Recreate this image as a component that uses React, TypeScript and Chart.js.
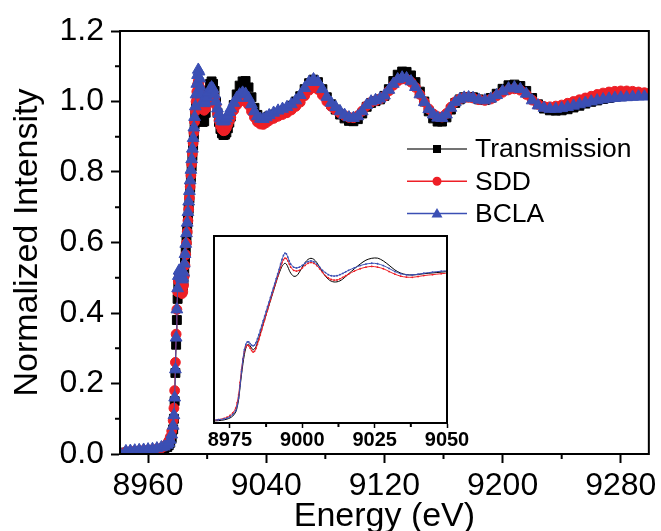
import React, { useEffect, useRef } from 'react';
import { Chart, registerables } from 'chart.js';

Chart.register(...registerables);

// ---------- data ----------
const ENERGY = [
  8941, 8945, 8948, 8951, 8954, 8957, 8960, 8963, 8966, 8969,
  8971, 8973, 8974, 8975, 8976, 8977, 8977.5, 8978, 8978.5, 8979,
  8979.5, 8980, 8980.5, 8981, 8981.5, 8982, 8982.5, 8983, 8983.5, 8984,
  8984.5, 8985, 8985.5, 8986, 8986.5, 8987, 8987.5, 8988, 8988.5, 8989,
  8989.5, 8990, 8990.5, 8991, 8991.5, 8992, 8992.5, 8993, 8993.5, 8994,
  8994.5, 8995, 8995.5, 8996, 8997, 8998, 8999, 9000, 9001, 9002,
  9003, 9004, 9005, 9006, 9007, 9008, 9009, 9010, 9011, 9012,
  9013, 9014, 9015, 9016, 9018, 9020, 9022, 9024, 9026, 9028,
  9030, 9032, 9034, 9036, 9038, 9040, 9042, 9045, 9048, 9051,
  9054, 9057, 9060, 9063, 9066, 9069, 9072, 9075, 9078, 9081,
  9084, 9087, 9090, 9093, 9096, 9099, 9102, 9105, 9108, 9111,
  9114, 9117, 9120, 9123, 9126, 9129, 9132, 9135, 9138, 9141,
  9144, 9147, 9150, 9153, 9156, 9159, 9162, 9165, 9168, 9171,
  9174, 9177, 9180, 9184, 9188, 9192, 9196, 9200, 9204, 9208,
  9212, 9216, 9220, 9224, 9228, 9232, 9236, 9240, 9244, 9248,
  9252, 9256, 9260, 9264, 9268, 9272, 9276, 9280, 9284, 9288, 9292, 9296, 9300,
];

const TRANSMISSION = [
  0.000, 0.004, 0.005, 0.006, 0.007, 0.008, 0.009, 0.010, 0.011, 0.013,
  0.015, 0.020, 0.025, 0.032, 0.045, 0.070, 0.100, 0.150, 0.230, 0.310,
  0.380, 0.440, 0.480, 0.500, 0.505, 0.495, 0.480, 0.470, 0.475, 0.490,
  0.515, 0.545, 0.575, 0.605, 0.635, 0.665, 0.695, 0.725, 0.755, 0.785,
  0.815, 0.845, 0.875, 0.905, 0.935, 0.960, 0.985, 1.005, 1.018, 1.025,
  1.020, 1.002, 0.980, 0.962, 0.942, 0.944, 0.968, 1.000, 1.030, 1.050,
  1.057, 1.050, 1.030, 1.000, 0.968, 0.942, 0.922, 0.910, 0.905, 0.906,
  0.912, 0.924, 0.940, 0.957, 0.990, 1.020, 1.045, 1.057, 1.058, 1.040,
  1.012, 0.982, 0.962, 0.952, 0.950, 0.953, 0.958, 0.963, 0.968, 0.973,
  0.978, 0.988, 1.000, 1.015, 1.035, 1.052, 1.062, 1.055, 1.035, 1.012,
  0.992, 0.977, 0.963, 0.952, 0.945, 0.944, 0.950, 0.966, 0.985, 0.996,
  1.001, 1.006, 1.016, 1.035, 1.058, 1.076, 1.085, 1.084, 1.074, 1.055,
  1.028, 1.000, 0.972, 0.952, 0.943, 0.943, 0.955, 0.977, 0.996, 1.006,
  1.012, 1.013, 1.012, 1.006, 1.004, 1.010, 1.022, 1.036, 1.046, 1.048,
  1.044, 1.030, 1.010, 0.992, 0.980, 0.975, 0.974, 0.975, 0.978, 0.983,
  0.988, 0.994, 0.999, 1.003, 1.007, 1.010, 1.013, 1.015, 1.017, 1.018, 1.019, 1.020, 1.020,
];

const SDD = [
  0.002, 0.006, 0.007, 0.008, 0.009, 0.010, 0.011, 0.012, 0.014, 0.017,
  0.022, 0.030, 0.037, 0.048, 0.065, 0.095, 0.130, 0.180, 0.260, 0.340,
  0.410, 0.460, 0.490, 0.500, 0.495, 0.480, 0.465, 0.455, 0.460, 0.478,
  0.505, 0.535, 0.565, 0.598, 0.630, 0.662, 0.694, 0.726, 0.758, 0.790,
  0.822, 0.852, 0.882, 0.912, 0.942, 0.972, 1.000, 1.028, 1.048, 1.058,
  1.055, 1.040, 1.020, 1.000, 0.980, 0.975, 0.980, 0.995, 1.012, 1.025,
  1.030, 1.025, 1.010, 0.990, 0.966, 0.946, 0.931, 0.921, 0.917, 0.918,
  0.925, 0.935, 0.945, 0.955, 0.975, 0.990, 1.000, 1.005, 1.000, 0.990,
  0.972, 0.955, 0.942, 0.936, 0.935, 0.940, 0.946, 0.952, 0.958, 0.963,
  0.968, 0.976, 0.986, 0.998, 1.016, 1.032, 1.040, 1.034, 1.018, 1.000,
  0.986, 0.976, 0.967, 0.960, 0.955, 0.954, 0.960, 0.973, 0.988, 0.998,
  1.002, 1.007, 1.015, 1.030, 1.046, 1.058, 1.064, 1.063, 1.055, 1.040,
  1.020, 0.999, 0.979, 0.965, 0.957, 0.956, 0.966, 0.984, 0.999, 1.007,
  1.011, 1.012, 1.010, 1.005, 1.003, 1.007, 1.016, 1.026, 1.033, 1.036,
  1.032, 1.020, 1.004, 0.992, 0.986, 0.985, 0.987, 0.990, 0.995, 1.000,
  1.005, 1.010, 1.015, 1.020, 1.024, 1.027, 1.029, 1.030, 1.030, 1.029, 1.027, 1.025, 1.025,
];

const BCLA = [
  0.003, 0.008, 0.009, 0.010, 0.011, 0.012, 0.013, 0.014, 0.016, 0.019,
  0.021, 0.026, 0.031, 0.040, 0.055, 0.080, 0.110, 0.160, 0.240, 0.330,
  0.410, 0.470, 0.505, 0.520, 0.520, 0.510, 0.500, 0.495, 0.500, 0.515,
  0.540, 0.567, 0.596, 0.626, 0.656, 0.686, 0.716, 0.746, 0.776, 0.806,
  0.836, 0.866, 0.896, 0.926, 0.956, 0.986, 1.020, 1.050, 1.075, 1.090,
  1.085, 1.065, 1.040, 1.020, 1.000, 0.995, 1.000, 1.012, 1.026, 1.036,
  1.040, 1.035, 1.020, 1.000, 0.980, 0.965, 0.952, 0.945, 0.943, 0.945,
  0.952, 0.960, 0.970, 0.980, 0.996, 1.010, 1.020, 1.025, 1.022, 1.010,
  0.992, 0.972, 0.958, 0.951, 0.950, 0.955, 0.961, 0.968, 0.974, 0.979,
  0.984, 0.992, 1.003, 1.018, 1.038, 1.055, 1.063, 1.055, 1.035, 1.013,
  0.996, 0.984, 0.972, 0.962, 0.955, 0.953, 0.958, 0.972, 0.990, 1.000,
  1.004, 1.008, 1.017, 1.033, 1.050, 1.063, 1.068, 1.066, 1.057, 1.041,
  1.020, 0.998, 0.978, 0.963, 0.954, 0.953, 0.963, 0.982, 0.998, 1.006,
  1.011, 1.012, 1.010, 1.005, 1.003, 1.008, 1.018, 1.029, 1.037, 1.040,
  1.035, 1.022, 1.003, 0.989, 0.982, 0.979, 0.979, 0.981, 0.984, 0.988,
  0.992, 0.996, 1.000, 1.003, 1.006, 1.008, 1.010, 1.011, 1.012, 1.013, 1.014, 1.014, 1.015,
];

const SERIES_NAMES = ['Transmission', 'SDD', 'BCLA'];

const X_MIN = 8941;
const X_MAX = 9299;
const X_TICKS = [8960, 9040, 9120, 9200, 9280];
const X_MINOR = [9000, 9080, 9160, 9240];
const Y_MIN = 0;
const Y_MAX = 1.2;
const Y_TICKS = [0, 0.2, 0.4, 0.6, 0.8, 1.0, 1.2];
const Y_MINOR = [0.1, 0.3, 0.5, 0.7, 0.9, 1.1];

const INSET_X_MIN = 8969.5;
const INSET_X_MAX = 9050;
const INSET_TICKS = [8975, 9000, 9025, 9050];
const INSET_MINOR = [8987.5, 9012.5, 9037.5];

// ---------- styles ----------
const FONT = "'Liberation Sans', Arial, Helvetica, sans-serif";
const COLORS = ['#000000', '#ee1f26', '#3b4fb4'];
const LINE_COLORS = ['#444444', '#ee1f26', '#3b4fb4'];
const POINT_STYLES = ['rect', 'circle', 'triangle'];
const POINT_RADII = [6.3, 4.9, 6.8];

const toXY = (ys: number[]) => ENERGY.map((x, i) => ({ x, y: ys[i] }));
const SERIES = [TRANSMISSION, SDD, BCLA];

function framePlugin(minorX: number[], minorY: number[], minorLen: number) {
  return {
    id: 'frameAndMinor',
    beforeDraw(chart: any) {
      const { ctx, chartArea: a } = chart;
      ctx.save();
      ctx.fillStyle = '#ffffff';
      ctx.fillRect(a.left, a.top, a.right - a.left, a.bottom - a.top);
      ctx.restore();
    },
    afterDraw(chart: any) {
      const { ctx, chartArea: a, scales } = chart;
      ctx.save();
      ctx.strokeStyle = '#000';
      ctx.lineWidth = 2;
      ctx.strokeRect(a.left, a.top, a.right - a.left, a.bottom - a.top);
      ctx.beginPath();
      minorX.forEach((v) => {
        const px = scales.x.getPixelForValue(v);
        ctx.moveTo(px, a.bottom);
        ctx.lineTo(px, a.bottom + minorLen);
      });
      minorY.forEach((v) => {
        const py = scales.y.getPixelForValue(v);
        ctx.moveTo(a.left, py);
        ctx.lineTo(a.left - minorLen, py);
      });
      ctx.stroke();
      ctx.restore();
    },
  };
}

const legendPlugin = {
  id: 'lineMarkerLegend',
  afterDraw(chart: any) {
    const ctx = chart.ctx;
    const top = 149;
    const step = 32.3;
    const x0 = 407;
    const x1 = 467;
    const mx = 437;
    ctx.save();
    SERIES_NAMES.forEach((name, i) => {
      const y = top + i * step;
      ctx.strokeStyle = LINE_COLORS[i];
      ctx.lineWidth = 1.5;
      ctx.beginPath();
      ctx.moveTo(x0, y);
      ctx.lineTo(x1, y);
      ctx.stroke();
      ctx.fillStyle = COLORS[i];
      ctx.beginPath();
      if (i === 0) {
        ctx.rect(mx - 4, y - 4, 8, 8);
      } else if (i === 1) {
        ctx.arc(mx, y, 4.5, 0, Math.PI * 2);
      } else {
        ctx.moveTo(mx, y - 5.5);
        ctx.lineTo(mx + 5.5, y + 4);
        ctx.lineTo(mx - 5.5, y + 4);
        ctx.closePath();
      }
      ctx.fill();
      ctx.fillStyle = '#000';
      ctx.font = `26.5px ${FONT}`;
      ctx.textAlign = 'left';
      ctx.textBaseline = 'middle';
      ctx.fillText(name, 475, y + 1);
    });
    ctx.restore();
  },
};

export default function App() {
  const mainRef = useRef<HTMLCanvasElement>(null);
  const insetRef = useRef<HTMLCanvasElement>(null);

  useEffect(() => {
    const mainChart = new Chart(mainRef.current as HTMLCanvasElement, {
      type: 'scatter',
      data: {
        datasets: SERIES.map((ys, i) => ({
          label: SERIES_NAMES[i],
          data: toXY(ys),
          showLine: true,
          borderColor: LINE_COLORS[i],
          borderWidth: 1,
          pointStyle: POINT_STYLES[i] as any,
          pointRadius: POINT_RADII[i],
          pointBackgroundColor: COLORS[i],
          pointBorderColor: COLORS[i],
          pointBorderWidth: 1,
          order: 3 - i,
        })),
      },
      options: {
        responsive: false,
        animation: false,
        events: [],
        layout: { padding: { top: 31, right: 12, left: 0, bottom: 0 } },
        plugins: { legend: { display: false }, tooltip: { enabled: false } },
        scales: {
          x: {
            type: 'linear',
            min: X_MIN,
            max: X_MAX,
            afterBuildTicks: (s: any) => {
              s.ticks = X_TICKS.map((v) => ({ value: v }));
            },
            afterFit: (s: any) => {
              s.height = 77;
            },
            ticks: {
              color: '#000',
              font: { size: 32, family: FONT },
              padding: 4,
              maxRotation: 0,
              autoSkip: false,
              callback: (v: any) => String(v),
            },
            grid: {
              display: true,
              drawOnChartArea: false,
              drawTicks: true,
              tickLength: 9,
              tickWidth: 2,
              tickColor: '#000',
            },
            border: { display: true, color: '#000', width: 2 },
            title: {
              display: true,
              text: 'Energy (eV)',
              color: '#000',
              font: { size: 34, family: FONT, lineHeight: 1 },
              padding: { top: 0, bottom: -3 },
            },
          },
          y: {
            type: 'linear',
            min: Y_MIN,
            max: Y_MAX,
            afterBuildTicks: (s: any) => {
              s.ticks = Y_TICKS.map((v) => ({ value: v }));
            },
            afterFit: (s: any) => {
              s.width = 120;
            },
            ticks: {
              color: '#000',
              font: { size: 32, family: FONT },
              padding: 7,
              autoSkip: false,
              callback: (v: any) => Number(v).toFixed(1),
            },
            grid: {
              display: true,
              drawOnChartArea: false,
              drawTicks: true,
              tickLength: 9,
              tickWidth: 2,
              tickColor: '#000',
            },
            border: { display: true, color: '#000', width: 2 },
            title: {
              display: true,
              text: 'Normalized Intensity',
              color: '#000',
              font: { size: 34, family: FONT, lineHeight: 1 },
              padding: { top: 11, bottom: 0 },
            },
          },
        },
      },
      plugins: [framePlugin(X_MINOR, Y_MINOR, 5), legendPlugin],
    } as any);

    const insetChart = new Chart(insetRef.current as HTMLCanvasElement, {
      type: 'scatter',
      data: {
        datasets: SERIES.map((ys, i) => ({
          label: SERIES_NAMES[i],
          data: toXY(ys),
          showLine: true,
          borderColor: COLORS[i],
          borderWidth: 1,
          tension: 0.3,
          pointStyle: 'circle',
          pointRadius: i === 0 ? 0 : 0.9,
          pointBackgroundColor: COLORS[i],
          pointBorderWidth: 0,
          order: 3 - i,
        })),
      },
      options: {
        responsive: false,
        animation: false,
        events: [],
        layout: { padding: { top: 11, right: 28, left: 14, bottom: 0 } },
        plugins: { legend: { display: false }, tooltip: { enabled: false } },
        scales: {
          x: {
            type: 'linear',
            min: INSET_X_MIN,
            max: INSET_X_MAX,
            afterBuildTicks: (s: any) => {
              s.ticks = INSET_TICKS.map((v) => ({ value: v }));
            },
            afterFit: (s: any) => {
              s.height = 37;
            },
            ticks: {
              color: '#000',
              font: { size: 20, family: FONT, weight: 'bold' },
              padding: 0,
              maxRotation: 0,
              autoSkip: false,
              callback: (v: any) => String(v),
            },
            grid: {
              display: true,
              drawOnChartArea: false,
              drawTicks: true,
              tickLength: 5,
              tickWidth: 1.5,
              tickColor: '#000',
            },
            border: { display: true, color: '#000', width: 2 },
          },
          y: {
            type: 'linear',
            display: false,
            min: 0,
            max: 1.2,
          },
        },
      },
      plugins: [framePlugin(INSET_MINOR, [], 4)],
    } as any);

    return () => {
      mainChart.destroy();
      insetChart.destroy();
    };
  }, []);

  return (
    <div style={{ position: 'absolute', left: 0, top: 0, width: 661, height: 531, background: '#fff' }}>
      <canvas
        ref={mainRef}
        width={661}
        height={531}
        style={{ position: 'absolute', left: 0, top: 0, width: 661, height: 531 }}
      />
      <canvas
        ref={insetRef}
        width={275}
        height={235}
        style={{ position: 'absolute', left: 200, top: 225, width: 275, height: 235 }}
      />
    </div>
  );
}
